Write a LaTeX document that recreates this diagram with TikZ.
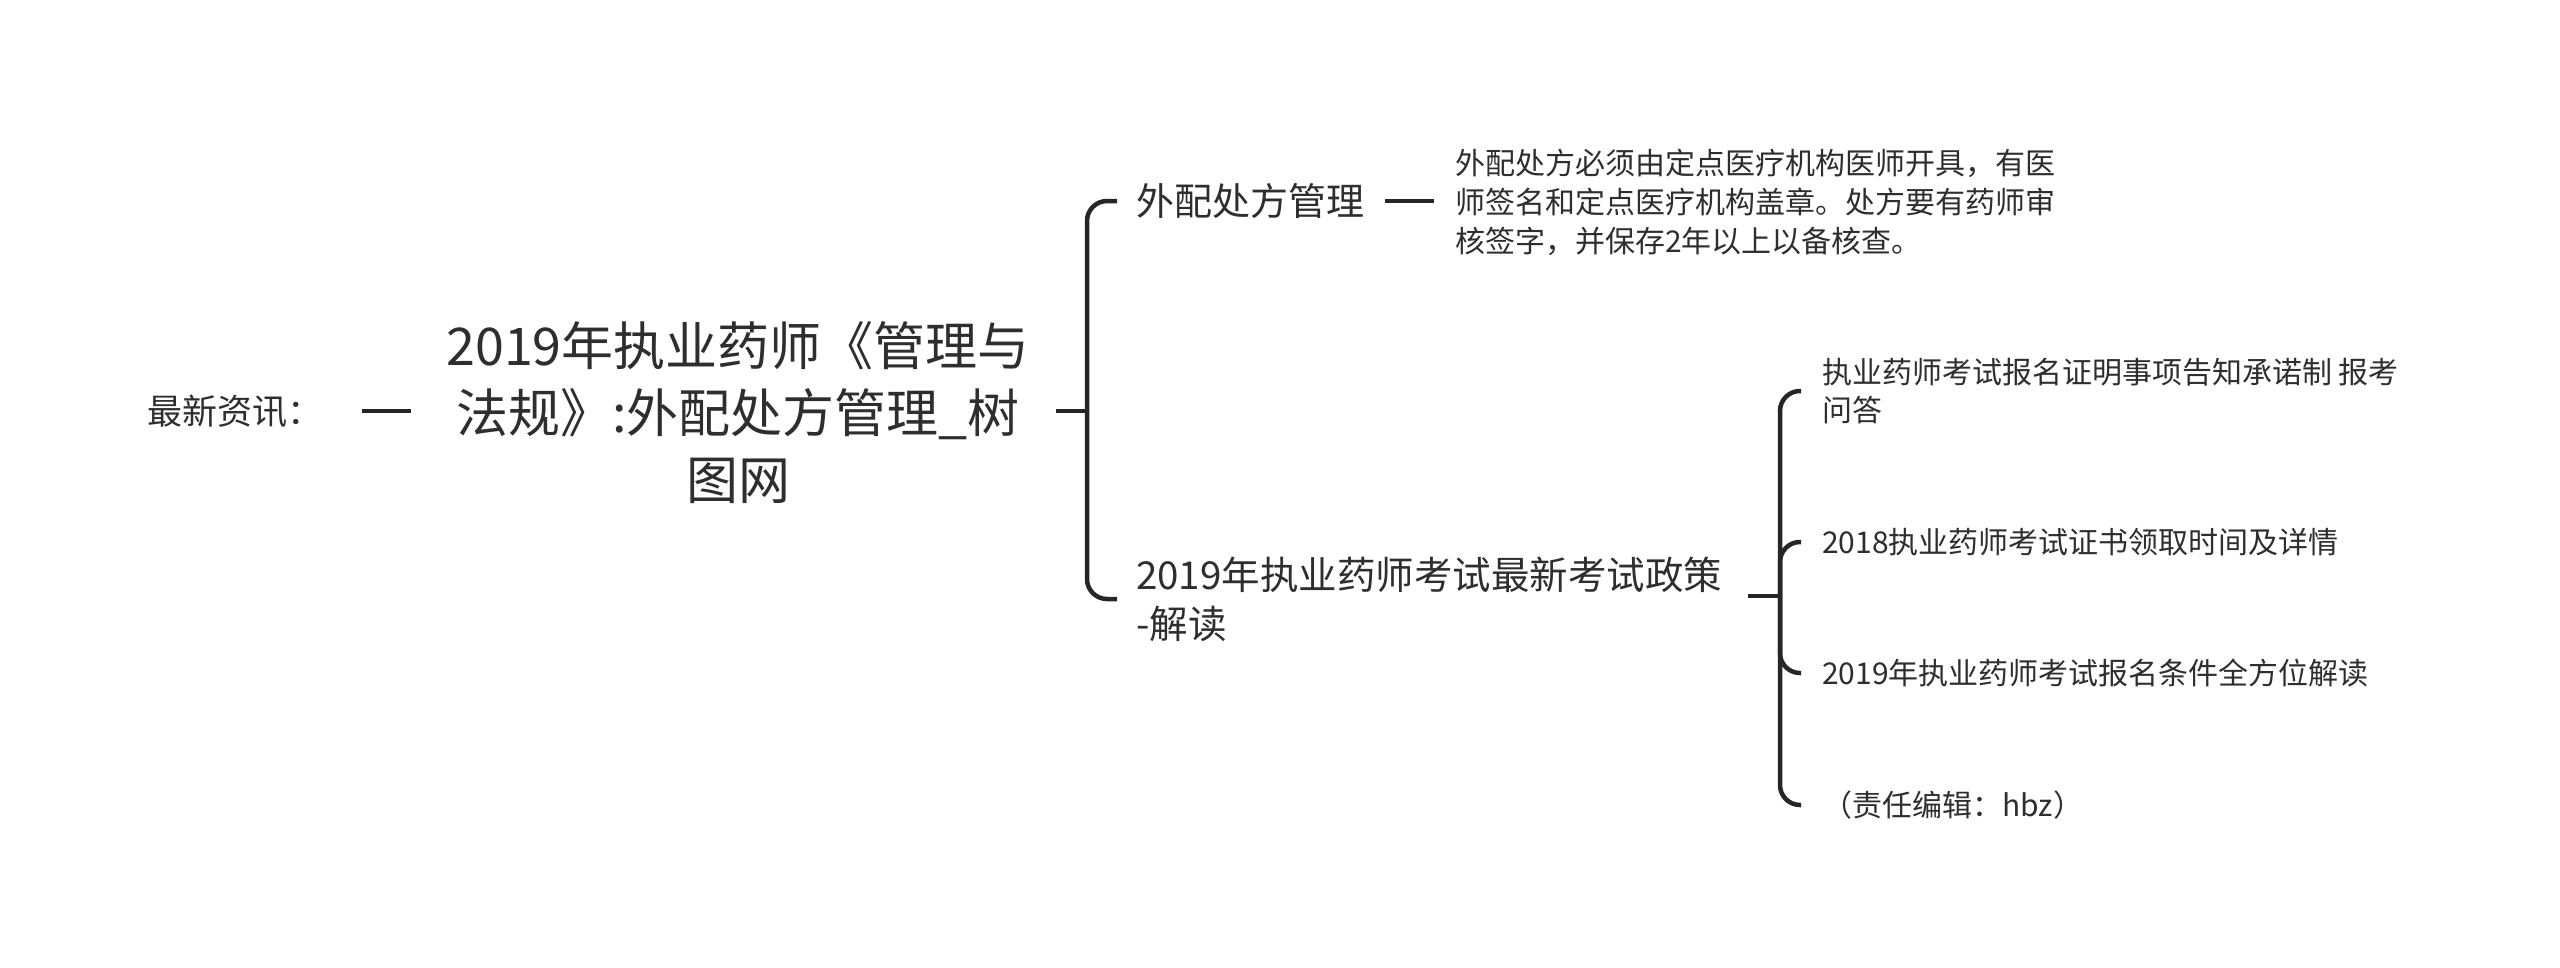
\documentclass[tikz,border=0pt]{standalone}
\usepackage{fontspec}
\setmainfont{Noto Sans CJK SC}
\definecolor{textc}{HTML}{2E2E2E}
\definecolor{linec}{HTML}{262626}
\begin{document}
\begin{tikzpicture}[x=1pt,y=-1pt,
  txt/.style={inner sep=0pt, text=textc, anchor=west, align=left},
  conn/.style={draw=linec, line width=4.5pt, rounded corners=20pt},
  stub/.style={draw=linec, line width=4.5pt}]
\useasboundingbox[fill=white] (0,0) rectangle (2560,967);

\node[txt, font=\fontsize{35}{40}\selectfont] (news) at (147,411) {最新资讯：};
\node[txt, anchor=center, align=center, font=\fontsize{52}{67}\selectfont] (root) at (738,413)
  {2019年执业药师《管理与\\法规》:外配处方管理\_树\\图网};
\draw[stub, shorten <=40pt, shorten >=35pt] (news.east) -- (news.east -| root.west);

\coordinate (b1) at (1087,411);
\draw[stub, shorten <=26pt] (root.east |- b1) -- (b1);

\node[txt, font=\fontsize{38}{46}\selectfont] (c1) at (1136,201) {外配处方管理};
\node[txt, font=\fontsize{30}{39}\selectfont] (d1) at (1455,202)
  {外配处方必须由定点医疗机构医师开具，有医\\师签名和定点医疗机构盖章。处方要有药师审\\核签字，并保存2年以上以备核查。};
\node[txt, font=\fontsize{38.5}{49}\selectfont] (c2) at (1136,599)
  {2019年执业药师考试最新考试政策\\-解读};

\draw[conn, shorten >=19pt] (b1) |- (c1.west);
\draw[conn, shorten >=19pt] (b1) |- (c2.west);
\draw[stub, shorten <=21pt, shorten >=21pt] (c1.east) -- (c1.east -| d1.west);

\coordinate (b2) at (1780,596);
\draw[stub, shorten <=26pt] (c2.east |- b2) -- (b2);

\node[txt, font=\fontsize{30}{38}\selectfont] (l1) at (1822,391)
  {执业药师考试报名证明事项告知承诺制 报考\\问答};
\node[txt, font=\fontsize{30}{38}\selectfont] (l2) at (1822,542) {2018执业药师考试证书领取时间及详情};
\node[txt, font=\fontsize{30}{38}\selectfont] (l3) at (1822,673) {2019年执业药师考试报名条件全方位解读};
\node[txt, font=\fontsize{30}{38}\selectfont] (l4) at (1822,805) {（责任编辑：hbz）};

\draw[conn, shorten >=21pt] (b2) |- (l1.west);
\draw[conn, shorten >=21pt] (b2) |- (l2.west);
\draw[conn, shorten >=21pt] (b2) |- (l3.west);
\draw[conn, shorten >=21pt] (b2) |- (l4.west);
\end{tikzpicture}
\end{document}
